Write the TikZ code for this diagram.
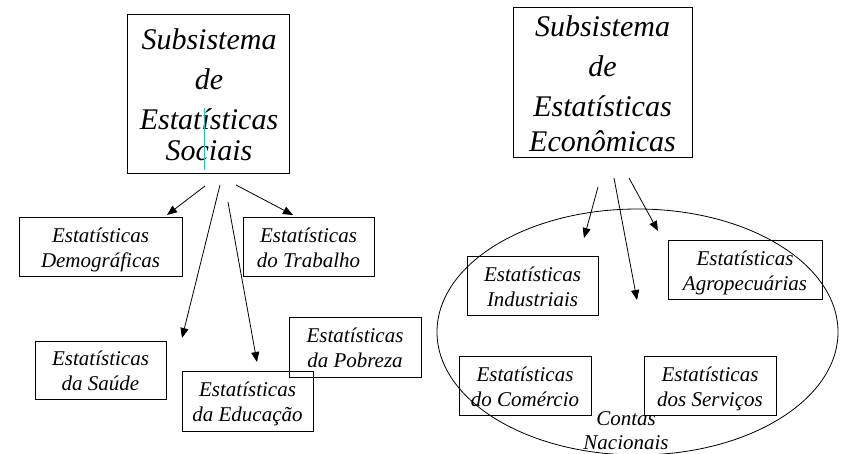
\documentclass[tikz,border=0pt]{standalone}
\usepackage{fontspec}
\setmainfont{Liberation Serif}
\usetikzlibrary{arrows.meta,shapes.geometric}
\definecolor{cyanline}{RGB}{40,190,190}
\newcommand\topstr{\rule{0pt}{22pt}}
\newcommand\botstr{\rule[-6pt]{0pt}{6pt}}
\tikzset{
  bigbox/.style={draw, line width=0.9pt, inner sep=0pt, outer sep=0pt},
  bigtext/.style={inner sep=0pt, align=center, font=\fontsize{30}{40}\selectfont\itshape},
  smallbox/.style={draw, line width=0.9pt, inner sep=0pt, outer sep=0pt, align=center,
    minimum height=59pt, font=\fontsize{21}{25}\selectfont\itshape},
  arr/.style={line width=0.8pt, -{Triangle[length=10pt,width=8pt]}},
}
\begin{document}
\begin{tikzpicture}[x=1pt,y=-1pt]
\useasboundingbox (0,0) rectangle (845,453);

% left big box
\node[bigbox, minimum width=162pt, minimum height=159pt] (soc) at (208,93.5) {};
\node[bigtext, anchor=north] (soct) at (209,28) {Subsistema\\de\\Estatísticas\\[-9pt]Sociais};
\draw[cyanline, line width=1pt] (204,108) coordinate (cy1) -- (204,170) coordinate (cy2);

% right big box
\node[bigbox, minimum width=179pt, minimum height=150pt] (eco) at (602.5,82) {};
\node[bigtext, anchor=north] (ecot) at (602.5,15) {Subsistema\\de\\Estatísticas\\[-5pt]Econômicas};

% left small boxes
\node[smallbox, minimum width=163pt] (dem) at (100.5,246.5) {\topstr Estatísticas\\Demográficas\botstr};
\node[smallbox, minimum width=131pt] (tra) at (308.5,246.5) {\topstr Estatísticas\\do Trabalho\botstr};
\node[smallbox, minimum width=131pt, minimum height=58pt] (sau) at (100.5,370) {\topstr Estatísticas\\da Saúde\botstr};
\node[smallbox, minimum width=131pt, minimum height=60pt] (edu) at (247.5,401) {\topstr Estatísticas\\da Educação\botstr};
\node[smallbox, minimum width=132pt, minimum height=60pt] (pob) at (355,347) {\topstr Estatísticas\\da Pobreza\botstr};

% ellipse
\node[ellipse, draw, line width=0.8pt, minimum width=401pt, minimum height=246pt, inner sep=0pt] (cn) at (637.5,332) {};
\node[inner sep=0pt, align=center, font=\fontsize{21}{24}\selectfont\itshape] (cnt) at (626,431) {Contas\\Nacionais};

% right small boxes
\node[smallbox, minimum width=131pt] (ind) at (532.5,285.5) {\topstr Estatísticas\\Industriais\botstr};
\node[smallbox, minimum width=154pt] (agr) at (745,269.5) {\topstr Estatísticas\\Agropecuárias\botstr};
\node[smallbox, minimum width=132pt] (com) at (525,385.5) {\topstr Estatísticas\\do Comércio\botstr};
\node[smallbox, minimum width=132pt] (ser) at (710,385.5) {\topstr Estatísticas\\dos Serviços\botstr};

% left arrows
\coordinate (a1s) at (205,186); \coordinate (a1e) at (167,215);
\coordinate (a2s) at (220,185); \coordinate (a2e) at (182,338);
\coordinate (a3s) at (228,202); \coordinate (a3e) at (257,362);
\coordinate (a4s) at (236,185); \coordinate (a4e) at (293,215);
\draw[arr] (a1s) -- (a1e);
\draw[arr] (a2s) -- (a2e);
\draw[arr] (a3s) -- (a3e);
\draw[arr] (a4s) -- (a4e);

% right arrows
\coordinate (b1s) at (598,187); \coordinate (b1e) at (584,238);
\coordinate (b2s) at (614,178); \coordinate (b2e) at (637,300);
\coordinate (b3s) at (629,178); \coordinate (b3e) at (658,231);
\draw[arr] (b1s) -- (b1e);
\draw[arr] (b2s) -- (b2e);
\draw[arr] (b3s) -- (b3e);
\end{tikzpicture}
\end{document}
